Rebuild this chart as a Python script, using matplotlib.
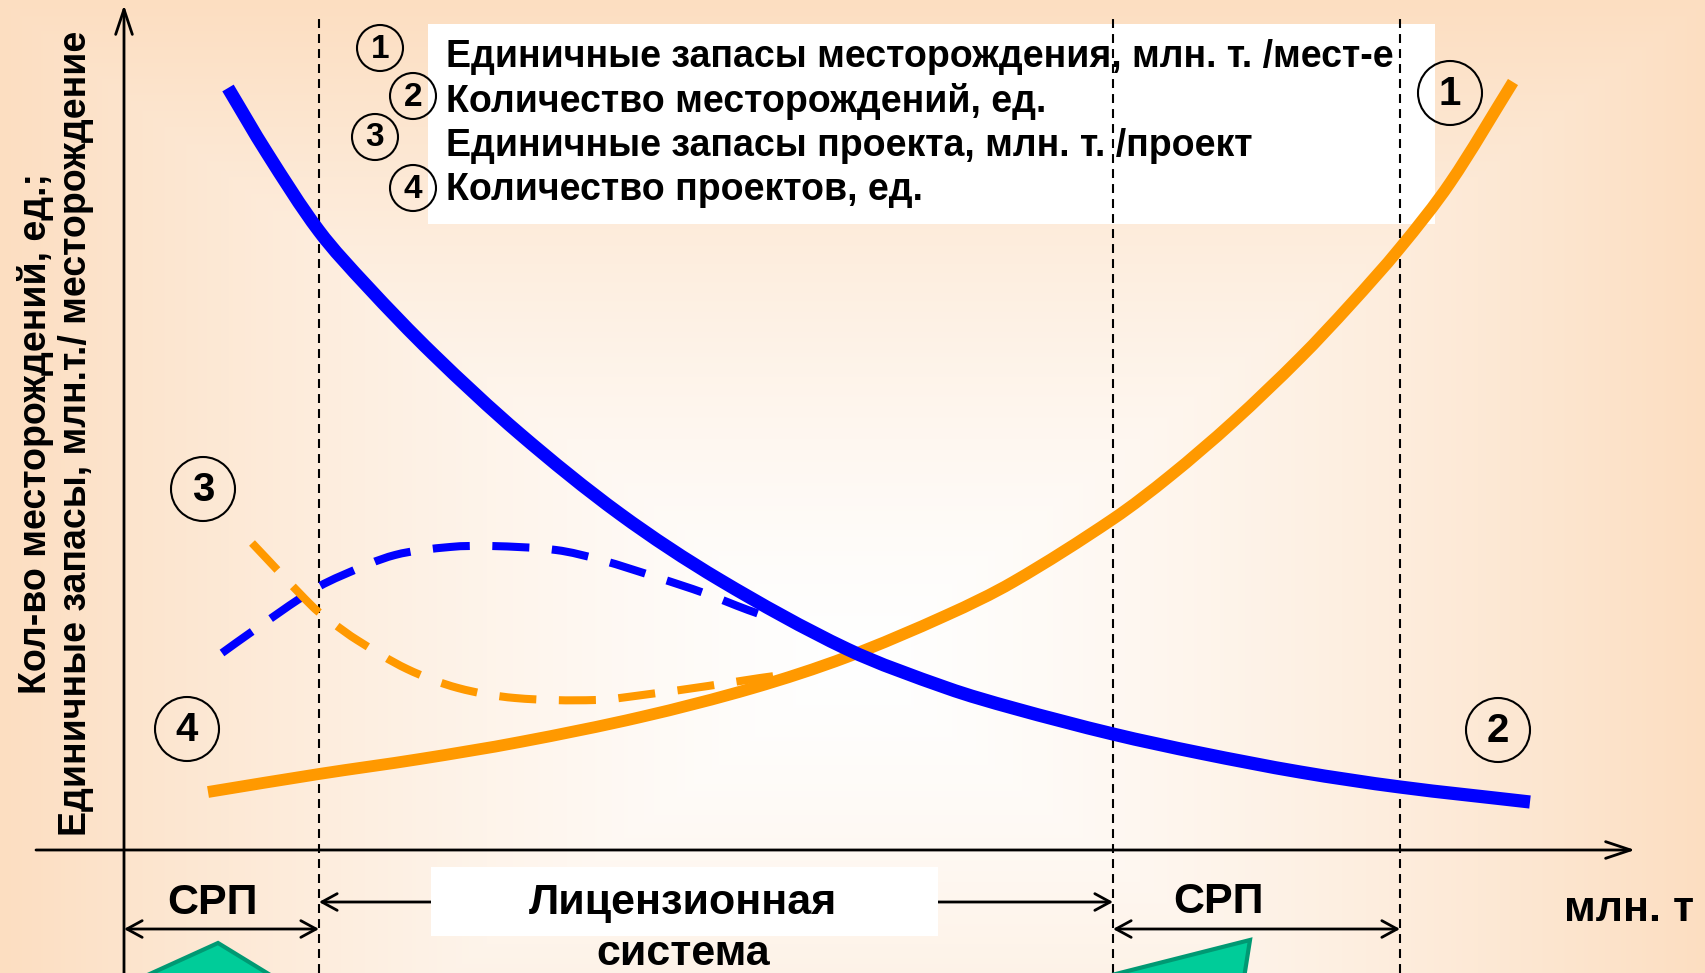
import numpy as np
import matplotlib
matplotlib.use("Agg")
import matplotlib.pyplot as plt
from matplotlib.patches import Circle, Rectangle, Polygon, PathPatch
from matplotlib.path import Path

# ---------------- data (x: reserves, y: value; arbitrary units) ----------------
# curve 2: number of fields (blue solid)
fields_count_x = [104, 143, 195, 243, 309, 396, 496, 596, 723, 823, 889, 989, 1076, 1176, 1276, 1406]
fields_count_y = [762, 697, 619, 564, 496, 416, 336, 270, 201, 162, 142, 116, 97, 78, 63, 48]

# curves 4/1: unit reserves of field / number of projects (orange solid)
field_reserves_x = [84, 195, 296, 396, 517, 629, 723, 823, 889, 989, 1046, 1109, 1176, 1226, 1276, 1326, 1389]
field_reserves_y = [58, 76, 91, 108, 133, 162, 193, 235, 268, 331, 374, 428, 492, 545, 602, 667, 768]

# curve 3 variants (dashed)
project_blue_x = [98, 126, 189, 219, 271, 326, 367, 432, 477, 535, 580, 624, 653]
project_blue_y = [197, 217, 260, 275, 295, 303, 304, 300, 290, 272, 257, 240, 230]

project_orange_x = [128, 189, 209, 233, 283, 334, 391, 472, 526, 584, 636, 666]
project_orange_y = [307, 243, 227, 210, 181, 162, 152, 150, 156, 164, 172, 176]

regime_bounds = [195, 989, 1276]

legend_nums = ["1", "2", "3", "4"]
legend_labels = [
    "Единичные запасы месторождения, млн. т. /мест-е",
    "Количество месторождений, ед.",
    "Единичные запасы проекта, млн. т. /проект",
    "Количество проектов, ед.",
]
curve_tags = ["1", "2", "3", "4"]
ylabel_lines = ["Кол-во месторождений, ед.;", "Единичные запасы, млн.т./ месторождение"]
regime_labels = ["СРП", "Лицензионная\nсистема", "СРП"]
x_unit = "млн. т"


def smooth_path(xs, ys):
    """Cubic Bezier path through the points, chord-length parametrised tangents."""
    p = np.column_stack([xs, ys]).astype(float)
    n = len(p)
    seg = np.hypot(*np.diff(p, axis=0).T)
    s = np.concatenate([[0], np.cumsum(seg)])
    tan = np.zeros_like(p)
    tan[0] = (p[1] - p[0]) / seg[0]
    tan[-1] = (p[-1] - p[-2]) / seg[-1]
    for i in range(1, n - 1):
        tan[i] = (p[i + 1] - p[i - 1]) / (s[i + 1] - s[i - 1])
    verts = [p[0]]
    codes = [Path.MOVETO]
    for i in range(n - 1):
        h = seg[i] / 3.0
        verts += [p[i] + tan[i] * h, p[i + 1] - tan[i + 1] * h, p[i + 1]]
        codes += [Path.CURVE4] * 3
    return Path(verts, codes)


# ---------------- figure ----------------
plt.rcParams["font.family"] = ["Liberation Sans", "DejaVu Sans"]
W, H = 1706, 973
fig = plt.figure(figsize=(W / 100, H / 100), dpi=100)
ax = fig.add_axes([0, 0, 1, 1])
X0, X1, Y0, Y1 = -124, 1582, -123, 850
ax.set_xlim(X0, X1)
ax.set_ylim(Y0, Y1)
ax.axis("off")

# background: rectangular gradient peach -> white
xx, yy = np.meshgrid(np.arange(W), np.arange(H))
t = np.maximum(np.abs(xx - 853) / 853.0, np.abs(yy - 660) / 660.0)
t = np.clip(t, 0, 1) ** 1.3
edge = np.array([252, 222, 193]) / 255.0
center = np.array([255, 255, 255]) / 255.0
img = center[None, None, :] * (1 - t[..., None]) + edge[None, None, :] * t[..., None]
ax.imshow(img, extent=[X0, X1, Y0, Y1], origin="upper", aspect="auto", zorder=0)

# legend box
ax.add_patch(Rectangle((304, 626), 1007, 200, facecolor="white", edgecolor="none", zorder=1))

# dashed regime boundaries
for b in regime_bounds:
    ax.plot([b, b], [Y0, 833], color="black", lw=1.5, linestyle=(0, (4.3, 2.9)), zorder=2)

# green decorative shapes
ax.add_patch(Polygon([(94, -93), (-38, -153), (192, -153)], closed=True,
                     facecolor="#00CC99", edgecolor="#009973", lw=3, zorder=2))
ax.add_patch(Polygon([(976, -128), (1126, -90), (1120, -128)], closed=True,
                     facecolor="#00CC99", edgecolor="#009973", lw=3, zorder=2))


def draw_curve(xs, ys, color, lw, ls, z):
    patch = PathPatch(smooth_path(xs, ys), facecolor="none", edgecolor=color,
                      lw=lw, linestyle=ls, capstyle="butt", joinstyle="round", zorder=z)
    ax.add_patch(patch)


# curves
draw_curve(project_blue_x, project_blue_y, "#0000FF", 5.8, (0, (4.6, 2.8)), 3)
draw_curve(project_orange_x, project_orange_y, "#FF9900", 5.8, (0, (4.6, 2.8)), 3)
draw_curve(field_reserves_x, field_reserves_y, "#FF9900", 8.5, "solid", 4)
draw_curve(fields_count_x, fields_count_y, "#0000FF", 9.5, "solid", 5)

# axes arrows
ax.annotate("", xy=(0, 845), xytext=(0, Y0),
            arrowprops=dict(arrowstyle="->,head_length=0.9,head_width=0.3", lw=2,
                            color="black", shrinkA=0, shrinkB=0, mutation_scale=20), zorder=6)
ax.annotate("", xy=(1511, 0), xytext=(-88, 0),
            arrowprops=dict(arrowstyle="->,head_length=0.9,head_width=0.3", lw=2,
                            color="black", shrinkA=0, shrinkB=0, mutation_scale=20), zorder=6)

# y label
ax.text(-88, 417, ylabel_lines[0], rotation=90, ha="center", va="center",
        fontsize=27, fontweight="bold", zorder=7)
ax.text(-48, 417, ylabel_lines[1], rotation=90, ha="center", va="center",
        fontsize=27, fontweight="bold", zorder=7)

# legend
leg_y = [793, 749, 704, 660]
leg_cx = [256, 289, 251, 289]
leg_cy = [802, 754, 713, 662]
for num, lab, ly, cx, cy in zip(legend_nums, legend_labels, leg_y, leg_cx, leg_cy):
    ax.text(322, ly, lab, ha="left", va="center", fontsize=27, fontweight="bold", zorder=7)
    ax.add_patch(Circle((cx, cy), 23, facecolor="none", edgecolor="black", lw=1.5, zorder=7))
    ax.text(cx, cy - 1, num, ha="center", va="center", fontsize=24, fontweight="bold", zorder=7)

# tags on curves
tag_pos = [(1326, 757), (1374, 120), (79, 361), (63, 121)]
for tag, (cx, cy) in zip(curve_tags, tag_pos):
    ax.add_patch(Circle((cx, cy), 32, facecolor="none", edgecolor="black", lw=1.5, zorder=7))
    ax.text(cx, cy - 1, tag, ha="center", va="center", fontsize=29, fontweight="bold", zorder=7)

# bottom regime annotations
arrow_kw = dict(lw=2, color="black", shrinkA=0, shrinkB=0, mutation_scale=20)
ax.annotate("", xy=(0, -79), xytext=(195, -79),
            arrowprops=dict(arrowstyle="<->,head_length=0.55,head_width=0.3", **arrow_kw))
ax.annotate("", xy=(989, -79), xytext=(1276, -79),
            arrowprops=dict(arrowstyle="<->,head_length=0.55,head_width=0.3", **arrow_kw))
ax.annotate("", xy=(195, -52), xytext=(307, -52),
            arrowprops=dict(arrowstyle="->,head_length=0.55,head_width=0.3", **arrow_kw))
ax.annotate("", xy=(989, -52), xytext=(814, -52),
            arrowprops=dict(arrowstyle="->,head_length=0.55,head_width=0.3", **arrow_kw))
ax.add_patch(Rectangle((307, -86), 507, 69, facecolor="white", edgecolor="none", zorder=3))

bfs = 31
ax.text(89, -53, regime_labels[0], ha="center", va="center", fontsize=bfs, fontweight="bold", zorder=7)
ax.text(1095, -52, regime_labels[2], ha="center", va="center", fontsize=bfs, fontweight="bold", zorder=7)
lic = regime_labels[1].split("\n")
ax.text(559, -53, lic[0], ha="center", va="center", fontsize=bfs, fontweight="bold", zorder=7)
ax.text(559, -104, lic[1], ha="center", va="center", fontsize=bfs, fontweight="bold", zorder=7)
ax.text(1505, -60, x_unit, ha="center", va="center", fontsize=bfs, fontweight="bold", zorder=7)

fig.savefig("out.png", dpi=100)
